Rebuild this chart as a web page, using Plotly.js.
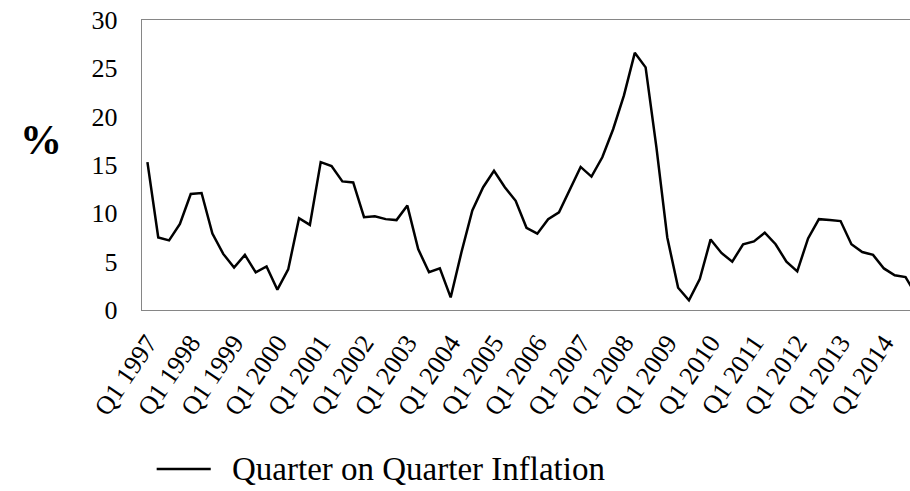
<!DOCTYPE html>
<html>
<head>
<meta charset="utf-8">
<script src="https://cdn.plot.ly/plotly-3.0.1.min.js"></script>
<style>html,body{margin:0;padding:0;background:#fff;}#chart{width:910px;height:491px;}</style>
</head>
<body>
<div id="chart"></div>
<script>
const years = [1997,1998,1999,2000,2001,2002,2003,2004,2005,2006,2007,2008,2009,2010,2011,2012,2013,2014];
const quarterNames = ["Q1","Q2","Q3","Q4"];
const seriesName = "Quarter on Quarter Inflation";
const inflation = [
  15.3, 7.5, 7.2, 8.9,
  12.0, 12.1, 7.9, 5.8,
  4.4, 5.7, 3.9, 4.5,
  2.1, 4.2, 9.5, 8.8,
  15.3, 14.9, 13.3, 13.2,
  9.6, 9.7, 9.4, 9.3,
  10.8, 6.3, 3.9, 4.3,
  1.3, 6.0, 10.3, 12.7,
  14.4, 12.7, 11.3, 8.5,
  7.9, 9.4, 10.1, 12.5,
  14.8, 13.8, 15.8, 18.7,
  22.2, 26.6, 25.1, 16.8,
  7.5, 2.3, 1.0, 3.2,
  7.3, 5.9, 5.0, 6.8,
  7.1, 8.0, 6.8, 5.0,
  4.0, 7.4, 9.4, 9.3,
  9.2, 6.8, 6.0, 5.7,
  4.3, 3.6, 3.4, 1.5
];
const quarters = [];
years.forEach(y => quarterNames.forEach(q => quarters.push(q + " " + y)));
const tickLabels = years.map(y => "Q1 " + y);

const serif = "Liberation Serif";

Plotly.newPlot("chart", [{
  x: quarters,
  y: inflation,
  type: "scatter",
  mode: "lines",
  name: seriesName,
  line: {color: "#000000", width: 2.5}
}], {
  width: 910,
  height: 491,
  margin: {l: 142, r: 0, t: 20, b: 181},
  paper_bgcolor: "#ffffff",
  plot_bgcolor: "#ffffff",
  font: {family: serif, color: "#000000", size: 26},
  xaxis: {
    type: "category",
    range: [-0.5, 70.41],
    tickvals: tickLabels,
    ticktext: tickLabels,
    tickangle: -56,
    showgrid: false,
    zeroline: false,
    showline: true,
    mirror: true,
    linecolor: "#868686",
    linewidth: 1.3,
    ticks: "",
    ticklabelstandoff: 6,
    tickfont: {family: serif, size: 26, color: "#000000"}
  },
  yaxis: {
    range: [0, 30],
    dtick: 5,
    showgrid: false,
    zeroline: false,
    showline: true,
    linecolor: "#868686",
    linewidth: 1.3,
    ticks: "",
    ticklabelstandoff: 18,
    tickfont: {family: serif, size: 26, color: "#000000"}
  },
  showlegend: false,
  shapes: [{
    type: "line",
    xref: "paper",
    yref: "paper",
    x0: 0.0191,
    x1: 0.0895,
    y0: -0.548,
    y1: -0.548,
    line: {color: "#000000", width: 2.5}
  }],
  annotations: [{
    text: "<b>%</b>",
    xref: "paper",
    yref: "paper",
    x: -0.131,
    y: 0.585,
    xanchor: "center",
    yanchor: "middle",
    showarrow: false,
    font: {family: serif, size: 42, color: "#000000"}
  }, {
    text: seriesName,
    xref: "paper",
    yref: "paper",
    x: 0.114,
    y: -0.548,
    xanchor: "left",
    yanchor: "middle",
    showarrow: false,
    font: {family: serif, size: 33, color: "#000000"}
  }]
}, {displayModeBar: false, staticPlot: true});
</script>
</body>
</html>
